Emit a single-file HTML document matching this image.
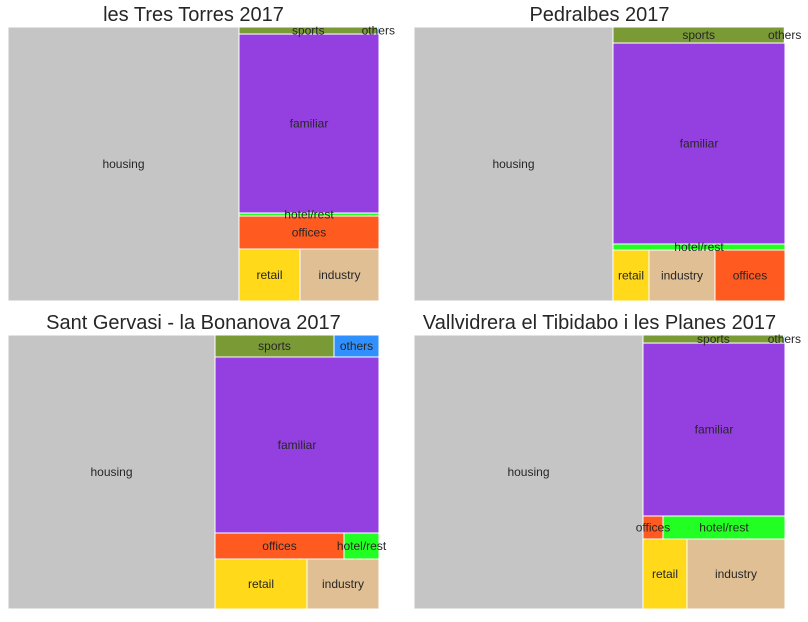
<!DOCTYPE html>
<html><head><meta charset="utf-8"><style>
body{margin:0;background:#fff;width:808px;height:617px;overflow:hidden;font-family:"Liberation Sans",sans-serif}
svg text{font-family:"Liberation Sans",sans-serif}
</style></head><body>
<svg id="c" width="808" height="617"></svg>
<script>
const categories=["housing","sports","others","familiar","hotel/rest","offices","retail","industry"];
const titles=["les Tres Torres 2017","Pedralbes 2017","Sant Gervasi - la Bonanova 2017","Vallvidrera el Tibidabo i les Planes 2017"];
const valuesTresTorres=[63294,980,10,25060,420,4620,3172,4108];
const valuesPedralbes=[54526,2752,10,34572,1032,3570,1836,3366];
const valuesBonanova=[56718,2618,990,28864,910,3354,4600,3600];
const valuesTibidabo=[62746,1136,10,24566,2806,460,3080,6860];
const rowsTresTorres=[[1,2],[3],[4],[5],[6,7]];
const rowsPedralbes=[[1,2],[3],[4],[6,7,5]];
const rowsBonanova=[[1,2],[3],[5,4],[6,7]];
const rowsTibidabo=[[1,2],[3],[5,4],[6,7]];
const colors={"housing":"#c5c5c5","sports":"#7a9a35","others":"#3090ff","familiar":"#9440e0","hotel/rest":"#22ff22","offices":"#ff5a1f","retail":"#ffd91a","industry":"#e0bf94"};
const panels=[
 {x:8,y:27,w:371,h:274,v:valuesTresTorres,r:rowsTresTorres},
 {x:414,y:27,w:371,h:274,v:valuesPedralbes,r:rowsPedralbes},
 {x:8,y:335,w:371,h:274,v:valuesBonanova,r:rowsBonanova},
 {x:414,y:335,w:371,h:274,v:valuesTibidabo,r:rowsTibidabo}];
const NS="http://www.w3.org/2000/svg";
const svg=document.getElementById('c');
function mk(t,a,p){const e=document.createElementNS(NS,t);for(const k in a)e.setAttribute(k,a[k]);p.appendChild(e);return e;}
function cell(g,lg,name,x,y,w,h){
 const r=mk('rect',{x:x,y:y,width:Math.max(w,0),height:Math.max(h,0),fill:colors[name],stroke:'#fff','stroke-width':1},g);
 
 
 const t=mk('text',{x:x+w/2,y:y+h/2+4,'text-anchor':'middle','font-size':12,fill:'#262626'},lg);
 t.textContent=name;
 
 
}
panels.forEach((p,i)=>{
 const g=mk('g',{},svg);
 
 
 const cg=mk('g',{},g);
 const lg=mk('g',{},g);
 const tt=mk('text',{x:p.x+p.w/2,y:p.y-6,'text-anchor':'middle','font-size':20,fill:'#262626'},g);
 tt.textContent=titles[i];
 
 
 const total=p.v.reduce((a,b)=>a+b,0);
 const k=(p.w*p.h)/total;
 const hw=p.v[0]*k/p.h;
 cell(cg,lg,categories[0],p.x,p.y,hw,p.h);
 const cw=p.w-hw;let y=p.y;
 p.r.forEach(row=>{
  const s=row.reduce((a,j)=>a+p.v[j]*k,0);
  const rh=s/cw;let x=p.x+hw;
  row.forEach(j=>{const w=p.v[j]*k/rh;cell(cg,lg,categories[j],x,y,w,rh);x+=w;});
  y+=rh;
 });
});
</script>
</body></html>
